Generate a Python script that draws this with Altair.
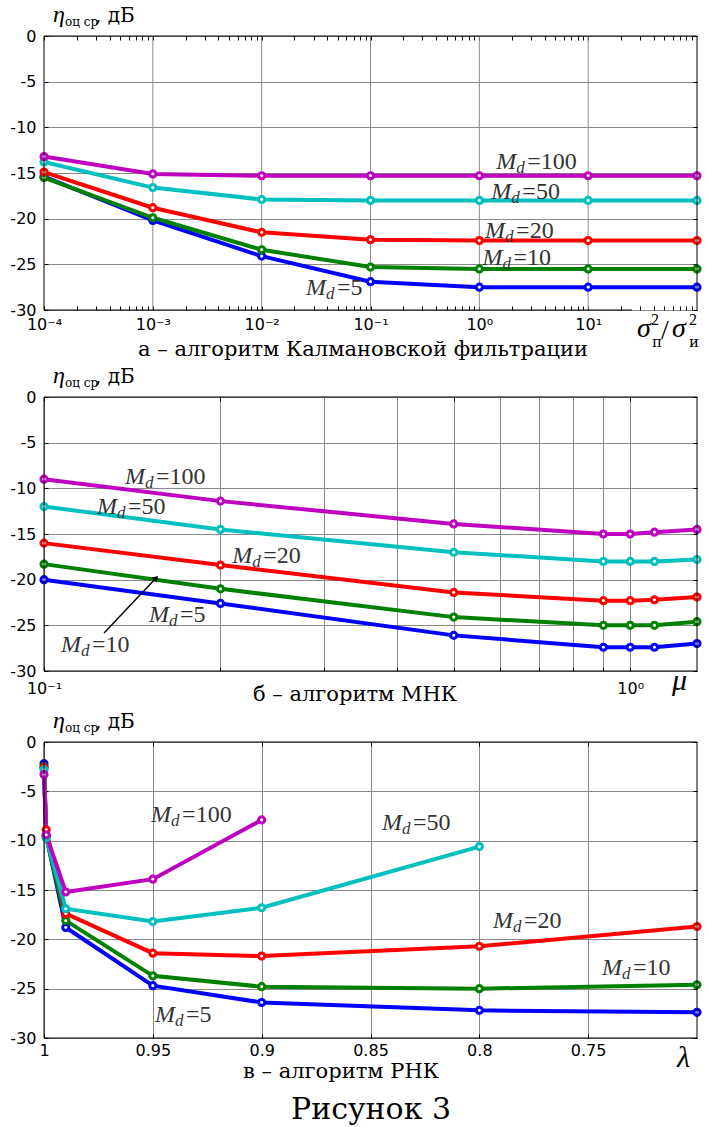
import altair as alt
import pandas as pd

SERIF = "Liberation Serif"
CYR = "DejaVu Serif"
SANS = "DejaVu Sans"
LABEL_C = "#333333"
GRID_C = "#8a8a8a"

MD = ["5", "10", "20", "50", "100"]
MD_COLORS = ["#0000ff", "#008000", "#ff0000", "#00bfbf", "#bf00bf"]

W = 653
HA, HB, HC = 274, 274, 296

# ---------------- panel a : Kalman filter ----------------
a_x = [1e-4, 1e-3, 1e-2, 1e-1, 1, 10, 100]
a_md5 = [-15.4, -20.2, -24.1, -26.9, -27.5, -27.5, -27.5]
a_md10 = [-15.5, -19.9, -23.4, -25.3, -25.5, -25.5, -25.5]
a_md20 = [-14.9, -18.8, -21.5, -22.3, -22.4, -22.4, -22.4]
a_md50 = [-13.8, -16.6, -17.9, -18.0, -18.0, -18.0, -18.0]
a_md100 = [-13.2, -15.1, -15.3, -15.3, -15.3, -15.3, -15.3]
a_major = [1e-4, 1e-3, 1e-2, 1e-1, 1, 10]
a_mult = [2, 3, 4, 5, 6, 7, 8, 9]
a_lab_md = ["100", "50", "20", "10", "5"]
a_lab_x = [1.43, 1.29, 1.13, 1.07, 0.0255]
a_lab_y = [-14.6, -17.9, -22.1, -25.1, -28.4]

# ---------------- panel b : LMS ----------------
b_x = [0.1, 0.2, 0.5, 0.9, 1.0, 1.1, 1.3]
b_md5 = [-20.0, -22.6, -26.1, -27.4, -27.4, -27.4, -27.0]
b_md10 = [-18.3, -21.0, -24.1, -25.0, -25.0, -25.0, -24.6]
b_md20 = [-16.0, -18.4, -21.4, -22.3, -22.3, -22.2, -21.9]
b_md50 = [-12.0, -14.5, -17.0, -18.0, -18.0, -18.0, -17.8]
b_md100 = [-9.0, -11.4, -13.9, -15.0, -15.0, -14.8, -14.5]
b_grid = [0.1, 0.2, 0.3, 0.4, 0.5, 0.6, 0.7, 0.8, 0.9, 1.0]
b_lab_md = ["100", "50", "20", "5", "10"]
b_lab_x = [0.1374, 0.1231, 0.2094, 0.151, 0.1069]
b_lab_y = [-9.5, -12.8, -18.17, -24.6, -27.9]
arrow_x = [0.1266, 0.1553]
arrow_y = [-25.84, -19.82]

# ---------------- panel c : RLS ----------------
c_x = [1.0, 0.999, 0.99, 0.95, 0.9, 0.8, 0.7]
c_md5 = [-2.2, -9.5, -18.8, -24.7, -26.4, -27.2, -27.4]
c_md10 = [-2.5, -9.6, -18.1, -23.7, -24.8, -25.0, -24.6]
c_md20 = [-2.6, -8.9, -17.4, -21.4, -21.7, -20.7, -18.7]
c_md50 = [-2.8, -9.7, -16.9, -18.2, -16.8, -10.6]
c_md100 = [-3.3, -9.4, -15.2, -13.9, -7.9]
c_ticks = [1.0, 0.95, 0.9, 0.85, 0.8, 0.75]
c_lab_md = ["100", "50", "20", "10", "5"]
c_lab_x = [0.9508, 0.8447, 0.7937, 0.7437, 0.949]
c_lab_y = [-8.08, -8.92, -18.88, -23.61, -28.35]

y_ticks = [0, -5, -10, -15, -20, -25, -30]

ONE = pd.DataFrame({"k": [0]})


def make_long(xs, series):
    rows = []
    for md, ys in zip(MD, series):
        for i, (x, y) in enumerate(zip(xs, ys)):
            rows.append({"s": md, "x": x, "y": y, "i": i})
    return pd.DataFrame(rows)


def make_labels(mds, xs, ys):
    return pd.DataFrame({"s": mds, "x": xs, "y": ys, "t": ["=" + m for m in mds]})


def txt(x, y, s, size, italic=False, align="left", font=SERIF, color="black"):
    return alt.Chart(ONE).mark_text(
        text=s, align=align, baseline="alphabetic", font=font, fontSize=size,
        fontStyle="italic" if italic else "normal", color=color
    ).encode(x=alt.value(x), y=alt.value(y))


def hrule(x1, x2, y):
    return alt.Chart(ONE).mark_rule(color="black", strokeWidth=1).encode(
        x=alt.value(x1), x2=alt.value(x2), y=alt.value(y))


def vrule(x, y1, y2):
    return alt.Chart(ONE).mark_rule(color="black", strokeWidth=1).encode(
        x=alt.value(x), y=alt.value(y1), y2=alt.value(y2))


def yaxis_left():
    return alt.Axis(orient="left", values=y_ticks, labelExpr="'' + datum.value", grid=True,
                    gridColor=GRID_C, gridWidth=1, domain=False, ticks=True, tickSize=4,
                    offset=-4, tickColor="black", labelPadding=8, labelFont=SANS,
                    labelFontSize=16, labelColor="black", title=None)


def yaxis_right():
    return alt.Axis(orient="right", values=y_ticks, labels=False, grid=False, domain=False,
                    ticks=True, tickSize=4, offset=-4, tickColor="black", title=None)


def panel(df, lab, xs, h, ax_bottom, ax_top, pad_top, pad_bottom, frame_bottom_end, pre, post):
    ys = alt.Scale(domain=[-30, 0], nice=False, zero=False)
    cs = alt.Scale(domain=MD, range=MD_COLORS)
    bounds = alt.Chart(ONE).mark_rule(strokeOpacity=0, color="white").encode(
        x=alt.value(-44), x2=alt.value(W + 11), y=alt.value(-pad_top), y2=alt.value(h + pad_bottom))
    lines = alt.Chart(df).mark_line(strokeWidth=4).encode(
        x=alt.X("x:Q", scale=xs, axis=ax_bottom),
        y=alt.Y("y:Q", scale=ys, axis=yaxis_left()),
        color=alt.Color("s:N", scale=cs, legend=None),
        order="i:Q",
    )
    points = alt.Chart(df).mark_point(shape="circle", filled=True, fill="white", size=38,
                                      strokeWidth=3, opacity=1).encode(
        x=alt.X("x:Q", scale=xs, axis=ax_top),
        y=alt.Y("y:Q", scale=ys, axis=yaxis_right()),
        stroke=alt.Color("s:N", scale=cs, legend=None),
    )
    frame = [vrule(0, 0, h), vrule(W, 0, h), hrule(0, W, 0), hrule(0, frame_bottom_end, h)]
    lb = alt.Chart(lab).encode(x=alt.X("x:Q", scale=xs, axis=None), y=alt.Y("y:Q", scale=ys, axis=None))
    lab_m = lb.mark_text(text="M", align="left", baseline="alphabetic", font=SERIF, fontSize=24,
                         fontStyle="italic", color=LABEL_C)
    lab_d = lb.mark_text(text="d", align="left", baseline="alphabetic", font=SERIF, fontSize=17,
                         fontStyle="italic", color=LABEL_C, dx=20, dy=4)
    lab_n = lb.mark_text(align="left", baseline="alphabetic", font=SERIF, fontSize=24,
                         color=LABEL_C, dx=31).encode(text="t:N")
    ylab = [txt(9, -14, "η", 24, italic=True), txt(21, -10, "оц ср", 12, font=CYR),
            txt(51, -14, ", дБ", 20, font=CYR)]
    layers = [bounds] + pre + [lines, points] + frame + [lab_m, lab_d, lab_n] + ylab + post
    return alt.layer(*layers).properties(width=W, height=h)


# ---------- panel a ----------
dfa = make_long(a_x, [a_md5, a_md10, a_md20, a_md50, a_md100])
laba = make_labels(a_lab_md, a_lab_x, a_lab_y)
xs_a = alt.Scale(type="log", domain=[1e-4, 100], nice=False)
a_minor = [m * d for d in a_major for m in a_mult]
a_ticks = a_major + a_minor
e = "round(log(datum.value)/LN10)"
sup = f"({e}==-4?'⁻⁴':{e}==-3?'⁻³':{e}==-2?'⁻²':{e}==-1?'⁻¹':{e}==0?'⁰':'¹')"
a_label_expr = f"abs(log(datum.value)/LN10 - {e}) < 0.01 ? '10' + {sup} : ''"
ax_a_bottom = alt.Axis(orient="bottom", values=a_ticks, labelExpr=a_label_expr, grid=False,
                       domain=False, ticks=True, tickSize=4, offset=-4, tickColor="black",
                       labelPadding=6, labelFont=SANS, labelFontSize=16, labelColor="black",
                       labelFlush=False, labelOverlap=False, title=None)
ax_a_top = alt.Axis(orient="top", values=a_ticks, labels=False, grid=False, domain=False,
                    ticks=True, tickSize=4, offset=-4, tickColor="black", title=None)
grid_a = alt.Chart(pd.DataFrame({"g": a_major[1:]})).mark_rule(color=GRID_C, strokeWidth=1).encode(
    x=alt.X("g:Q", scale=xs_a, axis=None))
post_a = [
    txt(593, 301, "σ", 28, italic=True), txt(607, 289, "2", 16), txt(608, 311, "п", 15, font=CYR),
    txt(617, 303, "/", 28), txt(628, 301, "σ", 28, italic=True), txt(645, 289, "2", 16),
    txt(645, 311, "и", 15, font=CYR),
    txt(319, 320, "а – алгоритм Калмановской фильтрации", 21, align="center", font=CYR),
]
pa = panel(dfa, laba, xs_a, HA, ax_a_bottom, ax_a_top, 36, 52, 588, [grid_a], post_a)

# ---------- panel b ----------
dfb = make_long(b_x, [b_md5, b_md10, b_md20, b_md50, b_md100])
labb = make_labels(b_lab_md, b_lab_x, b_lab_y)
xs_b = alt.Scale(type="log", domain=[0.1, 1.3], nice=False)
ax_b_bottom = alt.Axis(orient="bottom", values=b_grid,
                       labelExpr="datum.value < 0.15 ? '10⁻¹' : abs(datum.value - 1) < 0.01 ? '10⁰' : ''",
                       grid=True, gridColor=GRID_C, gridWidth=1, domain=False, ticks=True, tickSize=4,
                       offset=-4, tickColor="black", labelPadding=9, labelFont=SANS, labelFontSize=16,
                       labelColor="black", labelFlush=False, labelOverlap=False, title=None)
ax_b_top = alt.Axis(orient="top", values=[0.1, 0.2, 0.5, 1.0], labels=False, grid=False, domain=False,
                    ticks=True, tickSize=4, offset=-4, tickColor="black", title=None)
arrow_df = pd.DataFrame({"x": arrow_x, "y": arrow_y, "i": [0, 1]})
ys_b = alt.Scale(domain=[-30, 0], nice=False, zero=False)
arrow_line = alt.Chart(arrow_df).mark_line(color="black", strokeWidth=1.4).encode(
    x=alt.X("x:Q", scale=xs_b, axis=None), y=alt.Y("y:Q", scale=ys_b, axis=None), order="i:Q")
arrow_head = alt.Chart(arrow_df.iloc[[1]]).mark_point(shape="triangle-up", filled=True, color="black",
                                                      size=45, angle=43, opacity=1).encode(
    x=alt.X("x:Q", scale=xs_b, axis=None), y=alt.Y("y:Q", scale=ys_b, axis=None))
post_b = [
    arrow_line, arrow_head,
    txt(628, HB + 19, "μ", 30, italic=True),
    txt(311, HB + 30, "б – алгоритм МНК", 21, align="center", font=CYR),
]
pb = panel(dfb, labb, xs_b, HB, ax_b_bottom, ax_b_top, 35, 36, W, [], post_b)

# ---------- panel c ----------
dfc = make_long(c_x, [c_md5, c_md10, c_md20, c_md50, c_md100])
labc = make_labels(c_lab_md, c_lab_x, c_lab_y)
xs_c = alt.Scale(domain=[0.7, 1.0], reverse=True, nice=False, zero=False)
ax_c_bottom = alt.Axis(orient="bottom", values=c_ticks, format=".2~f", grid=True, gridColor=GRID_C,
                       gridWidth=1, domain=False, ticks=True, tickSize=4, offset=-4, tickColor="black",
                       labelPadding=4, labelFont=SANS, labelFontSize=16, labelColor="black",
                       labelFlush=False, labelOverlap=False, title=None)
ax_c_top = alt.Axis(orient="top", values=c_ticks, labels=False, grid=False, domain=False,
                    ticks=True, tickSize=4, offset=-4, tickColor="black", title=None)
post_c = [
    txt(633, HC + 29, "λ", 30, italic=True),
    txt(297, HC + 40, "в – алгоритм РНК", 21, align="center", font=CYR),
    txt(327, HC + 81, "Рисунок 3", 30, align="center", font=CYR),
]
pc = panel(dfc, labc, xs_c, HC, ax_c_bottom, ax_c_top, 35, 89, W, [], post_c)

chart = alt.vconcat(pa, pb, pc, spacing=0).properties(padding=0, background="white").configure_view(stroke=None)

chart.save("out.html", embed_options={"renderer": "svg", "actions": False})
